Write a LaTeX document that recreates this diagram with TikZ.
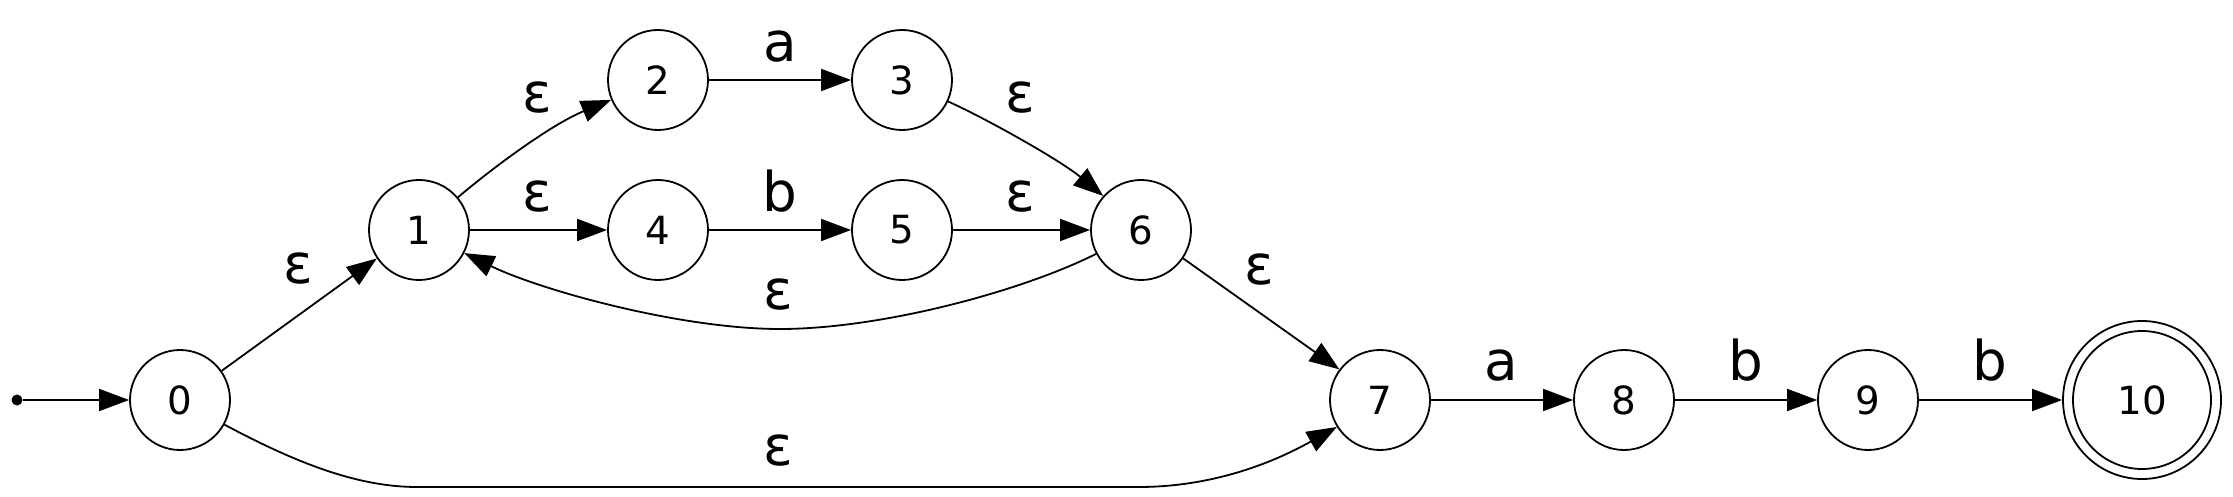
\documentclass[tikz,border=0pt]{standalone}
\usepackage{fontspec}
\setmainfont{DejaVu Sans}
\usetikzlibrary{arrows.meta}
\begin{document}
\begin{tikzpicture}[x=0.5pt,y=-0.5pt,
  state/.style={circle, draw, line width=0.9pt, minimum size=50pt, inner sep=0pt, font=\fontsize{19.4}{23}\selectfont},
  final/.style={state, minimum size=79pt},
  edge/.style={line width=0.9pt, -{Triangle[length=15pt,width=11pt]}},
  lab/.style={anchor=base, inner sep=0pt, font=\fontsize{27.4}{32}\selectfont}]
\useasboundingbox (0,0) rectangle (2233,497);
\node[circle, fill, inner sep=0pt, minimum size=5.5pt] (s) at (17,400) {};
\node[state] (n0) at (180,400) {0};
\node[state] (n1) at (419,230) {1};
\node[state] (n2) at (658,80) {2};
\node[state] (n3) at (902,80) {3};
\node[state] (n4) at (658,230) {4};
\node[state] (n5) at (902,230) {5};
\node[state] (n6) at (1141,230) {6};
\node[state] (n7) at (1380,400) {7};
\node[state] (n8) at (1624,400) {8};
\node[state] (n9) at (1868,400) {9};
\node[final] (n10) at (2142,400) {10};
\draw[line width=0.9pt] (n10.center) circle[radius=34.5pt];

\draw[edge] (s) -- (n0);
\draw[edge] (n0.35) -- (n1.214);
\draw[edge] (n1.40) .. controls (490,170) and (550,125) .. (n2.203);
\draw[edge] (n1) -- (n4);
\draw[edge] (n2) -- (n3);
\draw[edge] (n4) -- (n5);
\draw[edge] (n3.-25) .. controls (985,118) and (1060,160) .. (n6.138);
\draw[edge] (n5) -- (n6);
\draw[edge] (n6.208) .. controls (1020,292) and (880,329) .. (780,329)
  .. controls (680,329) and (540,290) .. (n1.-27);
\draw[edge] (n6.-34) -- (n7.143);
\draw[edge] (n0.-29) .. controls (300,465) and (360,487) .. (417,487) -- (1139,487)
  .. controls (1200,487) and (1260,470) .. (n7.212);
\draw[edge] (n7) -- (n8);
\draw[edge] (n8) -- (n9);
\draw[edge] (n9) -- (n10);

\node[lab] (l01) at (298,284) {ε};
\node[lab] (l12) at (537,113) {ε};
\node[lab] (l14) at (537,212) {ε};
\node[lab] (l23) at (780,62) {a};
\node[lab] (l45) at (780,212) {b};
\node[lab] (l36) at (1020,113) {ε};
\node[lab] (l56) at (1020,212) {ε};
\node[lab] (l67) at (1259,285) {ε};
\node[lab] (l61) at (778,309) {ε};
\node[lab] (l07) at (778,465) {ε};
\node[lab] (l78) at (1501,380) {a};
\node[lab] (l89) at (1746,380) {b};
\node[lab] (l910) at (1990,380) {b};
\end{tikzpicture}
\end{document}
